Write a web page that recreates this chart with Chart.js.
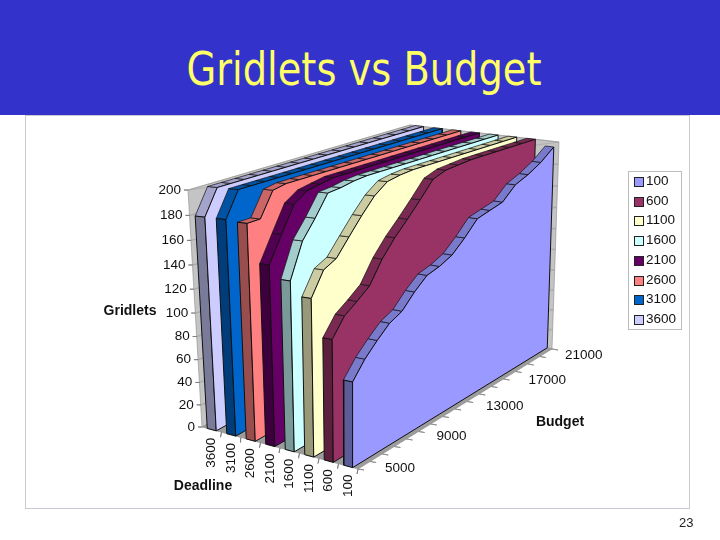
<!DOCTYPE html>
<html>
<head>
<meta charset="utf-8">
<title>Gridlets vs Budget</title>
<script src="https://cdn.jsdelivr.net/npm/chart.js@4/dist/chart.umd.min.js"></script>
<style>
  html, body { margin: 0; padding: 0; background: #fff; }
  #slide { position: relative; width: 720px; height: 540px; overflow: hidden; }
  #header { position: absolute; left: 0; top: 0; width: 720px; height: 115px; background: #3333cc; }
  #title { position: absolute; left: 0; top: 42px; width: 728px; text-align: center; color: #ffff66;
    font: 46px "DejaVu Sans Condensed", "DejaVu Sans", sans-serif; white-space: nowrap; transform: scaleX(0.927); }
  #panel { position: absolute; left: 25px; top: 115px; width: 663px; height: 392px; border: 1px solid #c9c9d2; }
  #gridletsChart { position: absolute; left: 0; top: 0; }
  #legend { position: absolute; left: 628px; top: 171px; width: 52px; height: 157px; border: 1px solid #bdbdbd;
    font: 13.5px "Liberation Sans", Arial, sans-serif; color: #111; }
  #legend div { position: absolute; left: 17px; white-space: nowrap; line-height: 14px; }
  #legend i { position: absolute; left: -12px; top: 3px; width: 8px; height: 8px; border: 1px solid #222; }
  #page { position: absolute; left: 679px; top: 515px; font: 13px "Liberation Sans", Arial, sans-serif; color: #222; }
</style>
</head>
<body>
<div id="slide">
  <div id="header"><div id="title">Gridlets vs Budget</div></div>
  <div id="panel"></div>
  <canvas id="gridletsChart" width="720" height="540"></canvas>
  <div id="legend"></div>
  <div id="page">23</div>
</div>
<script>
const budgets = [5000, 6000, 7000, 8000, 9000, 10000, 11000, 12000, 13000, 14000, 15000, 16000, 17000, 18000, 19000, 20000, 21000];
const budgetTicks = [5000, 9000, 13000, 17000, 21000];
const gridletTicks = [0, 20, 40, 60, 80, 100, 120, 140, 160, 180, 200];
const deadlines = [100, 600, 1100, 1600, 2100, 2600, 3100, 3600];

const gridlets100  = [69, 82, 92, 101, 106, 117, 126, 129, 134, 144, 156, 159, 162, 173, 178, 185, 195];
const gridlets600  = [99, 113, 120, 128, 145, 158, 169, 181, 194, 198, 199, 200, 200, 200, 200, 200, 200];
const gridlets1100 = [128, 146, 151, 164, 177, 189, 197, 199, 200, 200, 200, 200, 200, 200, 200, 200, 200];
const gridlets1600 = [139, 166, 180, 196, 197, 199, 200, 200, 200, 200, 200, 200, 200, 200, 200, 200, 200];
const gridlets2100 = [149, 169, 189, 196, 198, 200, 200, 200, 200, 200, 200, 200, 200, 200, 200, 200, 200];
const gridlets2600 = [179, 179, 198, 200, 200, 200, 200, 200, 200, 200, 200, 200, 200, 200, 200, 200, 200];
const gridlets3100 = [180, 200, 200, 200, 200, 200, 200, 200, 200, 200, 200, 200, 200, 200, 200, 200, 200];
const gridlets3600 = [180, 200, 200, 200, 200, 200, 200, 200, 200, 200, 200, 200, 200, 200, 200, 200, 200];
const seriesValues = [gridlets100, gridlets600, gridlets1100, gridlets1600, gridlets2100, gridlets2600, gridlets3100, gridlets3600];

// face, top ribbon, left end
const seriesColors = [
  ['#9999ff', '#7a7acc', '#5c5c99'],
  ['#993366', '#7a2952', '#5c1f3d'],
  ['#ffffcc', '#cccca3', '#99997a'],
  ['#ccffff', '#a3cccc', '#7a9999'],
  ['#660066', '#520052', '#3d003d'],
  ['#ff8080', '#cc6666', '#994d4d'],
  ['#0066cc', '#0052a3', '#003d7a'],
  ['#ccccff', '#a3a3cc', '#7a7a99']
];

// the 3D box as it lands on the page: b along budget, d along deadline, g along gridlets
const box = {
  floor: { frontLeft: [358, 469], frontRight: [552, 349], backLeft: [202, 427], backRight: [412, 312] },
  top:   { frontLeft: [358, 207], frontRight: [559, 142], backLeft: [188, 190], backRight: [410, 125] }
};
const slabFront = 0.27, slabBack = 0.73;
const heightPerspective = 0.08;
// the budget labels in the picture do not sit quite evenly along the axis
const budgetLabelNudge = [[0, 1], [3, -1], [4, -1], [-2, 3], [-14, 8]];

function mix(a, b, t) { return [a[0] + (b[0] - a[0]) * t, a[1] + (b[1] - a[1]) * t]; }

function project(b, d, g) {
  const low = mix(mix(box.floor.frontLeft, box.floor.frontRight, b), mix(box.floor.backLeft, box.floor.backRight, b), d);
  const high = mix(mix(box.top.frontLeft, box.top.frontRight, b), mix(box.top.backLeft, box.top.backRight, b), d);
  const t = g / 200;
  const p = mix(low, high, t / (1 + heightPerspective * (1 - t)));
  return { x: p[0], y: p[1] };
}

function budgetPos(value) { return (value - budgets[0]) / (budgets[budgets.length - 1] - budgets[0]); }

function polygon(points, fillColor, lineColor, lineWidth) {
  return {
    data: points.concat([points[0]]),
    showLine: true,
    polyFill: fillColor,
    borderColor: lineColor,
    borderWidth: lineWidth,
    pointRadius: 0,
    tension: 0
  };
}

const datasets = [];

// walls and floor
datasets.push(polygon([project(0, 1, 0), project(1, 1, 0), project(1, 1, 200), project(0, 1, 200)], '#c4c4c4', '#8c8c8c', 0.6));
datasets.push(polygon([project(1, 1, 0), project(1, 0, 0), project(1, 0, 200), project(1, 1, 200)], '#c4c4c4', '#8c8c8c', 0.6));
datasets.push(polygon([project(0, 0, 0), project(1, 0, 0), project(1, 1, 0), project(0, 1, 0)], '#9c9c9c', '#8c8c8c', 0.6));

// wall grid and tick marks
gridletTicks.forEach(g => {
  datasets.push(polygon([project(0, 1, g), project(1, 1, g), project(1, 0, g)], 'transparent', '#9a9a9a', 0.5));
  const p = project(0, 1, g);
  datasets.push(polygon([p, { x: p.x - 4, y: p.y }], 'transparent', '#777', 0.8));
});
deadlines.forEach((_, i) => {
  const p = project(0, i / 8, 0);
  datasets.push(polygon([p, { x: p.x - 1, y: p.y + 5 }], 'transparent', '#777', 0.8));
});
budgets.forEach(v => {
  const p = project(budgetPos(v), 0, 0);
  datasets.push(polygon([p, { x: p.x + 6, y: p.y + 1 }], 'transparent', '#888', 0.8));
});

// slabs from the back to the front
for (let i = deadlines.length - 1; i >= 0; i--) {
  const values = seriesValues[i];
  const dFront = (i + slabFront) / 8, dBack = (i + slabBack) / 8;
  const bOf = k => budgetPos(budgets[k]);
  const edge = '#111';
  for (let k = 0; k < budgets.length - 1; k++) {
    datasets.push(polygon([
      project(bOf(k), dFront, values[k]), project(bOf(k + 1), dFront, values[k + 1]),
      project(bOf(k + 1), dBack, values[k + 1]), project(bOf(k), dBack, values[k])
    ], seriesColors[i][1], edge, 0.7));
  }
  datasets.push(polygon([
    project(0, dBack, 0), project(0, dFront, 0), project(0, dFront, values[0]), project(0, dBack, values[0])
  ], seriesColors[i][2], edge, 1));
  const face = [project(0, dFront, 0)];
  values.forEach((v, k) => face.push(project(bOf(k), dFront, v)));
  face.push(project(1, dFront, 0));
  datasets.push(polygon(face, seriesColors[i][0], edge, 1));
}

// Chart.js paints the last dataset first, so the list has to be turned round
datasets.reverse();

const polyFillPlugin = {
  id: 'polyFill',
  beforeDatasetDraw(chart, args) {
    const ds = chart.data.datasets[args.index];
    const pts = args.meta.data;
    if (!ds.polyFill || ds.polyFill === 'transparent') return;
    const ctx = chart.ctx;
    ctx.save();
    ctx.beginPath();
    pts.forEach((p, n) => n ? ctx.lineTo(p.x, p.y) : ctx.moveTo(p.x, p.y));
    ctx.closePath();
    ctx.fillStyle = ds.polyFill;
    ctx.fill();
    ctx.restore();
  }
};

// axis labels follow the same projection as the marks
const axisTextPlugin = {
  id: 'axisText',
  afterDraw(chart) {
    const ctx = chart.ctx;
    const sx = chart.scales.x, sy = chart.scales.y;
    const label = (txt, p, dx, dy, align, rot, font) => {
      ctx.save();
      ctx.translate(sx.getPixelForValue(p.x) + dx, sy.getPixelForValue(p.y) + dy);
      if (rot) ctx.rotate(rot);
      ctx.textAlign = align;
      ctx.textBaseline = 'middle';
      ctx.font = font;
      ctx.fillStyle = '#111';
      ctx.fillText(txt, 0, 0);
      ctx.restore();
    };
    const tickFont = '13.5px "Liberation Sans", Arial, sans-serif';
    const titleFont = 'bold 14px "Liberation Sans", Arial, sans-serif';
    gridletTicks.forEach(g => label(String(g), project(0, 1, g), -7, 0, 'right', 0, tickFont));
    budgetTicks.forEach((v, n) => label(String(v), project(budgetPos(v), 0, 0), 27 + budgetLabelNudge[n][0], -2 + budgetLabelNudge[n][1], 'left', 0, tickFont));
    deadlines.forEach((v, i) => label(String(v), project(0, (i + 0.5) / 8, 0), 0, 8, 'right', -Math.PI / 2, tickFont));
    label('Gridlets', { x: 130, y: 311 }, 0, 0, 'center', 0, titleFont);
    label('Budget', { x: 560, y: 422 }, 0, 0, 'center', 0, titleFont);
    label('Deadline', { x: 203, y: 486 }, 0, 0, 'center', 0, titleFont);
  }
};

new Chart(document.getElementById('gridletsChart'), {
  type: 'scatter',
  data: { datasets },
  plugins: [polyFillPlugin, axisTextPlugin],
  options: {
    responsive: false,
    animation: false,
    layout: { padding: 0 },
    plugins: { legend: { display: false }, tooltip: { enabled: false } },
    scales: {
      x: { type: 'linear', min: 0, max: 720, display: false },
      y: { type: 'linear', min: 0, max: 540, reverse: true, display: false }
    }
  }
});

const legend = document.getElementById('legend');
deadlines.forEach((name, i) => {
  const row = document.createElement('div');
  row.style.top = (2 + i * 19.7) + 'px';
  row.textContent = name;
  const swatch = document.createElement('i');
  swatch.style.background = seriesColors[i][0];
  row.appendChild(swatch);
  legend.appendChild(row);
});
</script>
</body>
</html>
